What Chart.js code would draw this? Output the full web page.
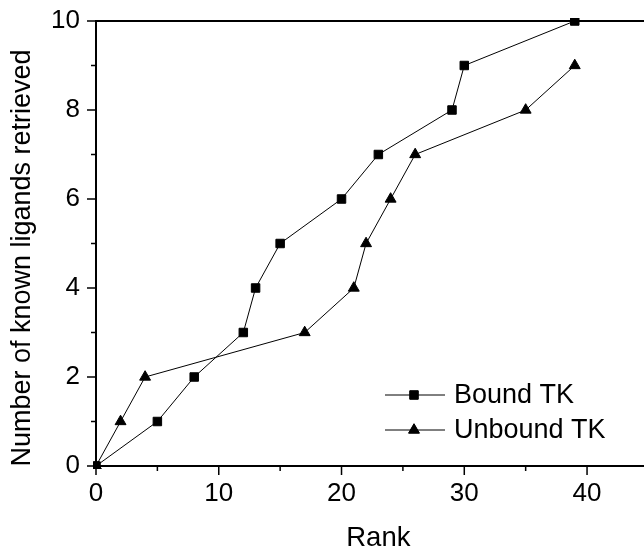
<!DOCTYPE html>
<html>
<head>
<meta charset="utf-8">
<script src="https://cdn.jsdelivr.net/npm/chart.js@4/dist/chart.umd.min.js"></script>
<style>
html,body{margin:0;padding:0;background:#fff;overflow:hidden;width:644px;height:552px;}
canvas{display:block;}
</style>
</head>
<body>
<canvas id="c" width="668" height="552" style="width:668px;height:552px"></canvas>
<script>
const seriesNames = ['Bound TK', 'Unbound TK'];
const boundRank = [0, 5, 8, 12, 13, 15, 20, 23, 29, 30, 39];
const boundCount = [0, 1, 2, 3, 4, 5, 6, 7, 8, 9, 10];
const unboundRank = [0, 2, 4, 17, 21, 22, 24, 26, 35, 39];
const unboundCount = [0, 1, 2, 3, 4, 5, 6, 7, 8, 9];
const xTitle = 'Rank';
const yTitle = 'Number of known ligands retrieved';
const xMajorTicks = [0, 10, 20, 30, 40];
const xMinorTicks = [5, 15, 25, 35, 45];
const yMajorTicks = [0, 2, 4, 6, 8, 10];
const yMinorTicks = [1, 3, 5, 7, 9];
const xRange = [0, 46];
const yRange = [0, 10];

const FONT = '"Liberation Sans", Arial, sans-serif';

const toPts = (xs, ys) => xs.map((x, i) => ({x: x, y: ys[i]}));

const decor = {
  id: 'decor',
  afterDraw(chart) {
    const ctx = chart.ctx;
    const a = chart.chartArea;
    const xs = chart.scales.x, ys = chart.scales.y;
    ctx.save();
    ctx.strokeStyle = '#000';
    // top border
    ctx.lineWidth = 2;
    ctx.beginPath();
    ctx.moveTo(a.left - 1, a.top);
    ctx.lineTo(a.right, a.top);
    ctx.stroke();
    // ticks
    ctx.lineWidth = 1.5;
    ctx.beginPath();
    xMajorTicks.forEach(v => { const p = xs.getPixelForValue(v); ctx.moveTo(p, a.bottom); ctx.lineTo(p, a.bottom + 9); });
    xMinorTicks.forEach(v => { const p = xs.getPixelForValue(v); ctx.moveTo(p, a.bottom); ctx.lineTo(p, a.bottom + 5); });
    yMajorTicks.forEach(v => { const p = ys.getPixelForValue(v); ctx.moveTo(a.left, p); ctx.lineTo(a.left - 9, p); });
    yMinorTicks.forEach(v => { const p = ys.getPixelForValue(v); ctx.moveTo(a.left, p); ctx.lineTo(a.left - 5, p); });
    ctx.stroke();
    // y title
    ctx.fillStyle = '#000';
    ctx.font = '27px ' + FONT;
    ctx.textAlign = 'center';
    ctx.textBaseline = 'middle';
    ctx.translate(23, 258);
    ctx.rotate(-Math.PI / 2);
    ctx.fillText(yTitle, 0, 0);
    ctx.restore();

    // legend
    ctx.save();
    const rows = [395, 430];
    chart.data.datasets.forEach((ds, i) => {
      const y = rows[i];
      ctx.strokeStyle = '#000';
      ctx.lineWidth = 1;
      ctx.beginPath();
      ctx.moveTo(385, y);
      ctx.lineTo(445, y);
      ctx.stroke();
      Chart.helpers.drawPoint(ctx, {pointStyle: ds.pointStyle, radius: ds.pointRadius, borderWidth: 1, rotation: 0}, 414, y);
      ctx.fillStyle = '#000';
      ctx.fill();
      ctx.font = '27px ' + FONT;
      ctx.textAlign = 'left';
      ctx.textBaseline = 'middle';
      ctx.fillText(ds.label, 454, y + 1);
    });
    ctx.restore();
  }
};

const noPad = s => { s.paddingTop = 0; s.paddingBottom = 0; s.paddingLeft = 0; s.paddingRight = 0; };

new Chart(document.getElementById('c'), {
  type: 'scatter',
  data: {
    datasets: [
      {
        label: seriesNames[0],
        data: toPts(boundRank, boundCount),
        showLine: true,
        borderColor: '#000',
        borderWidth: 1,
        pointStyle: 'rect',
        pointRadius: 6,
        pointBackgroundColor: '#000',
        pointBorderColor: '#000',
        pointBorderWidth: 1,
        clip: 3,
        order: 1
      },
      {
        label: seriesNames[1],
        data: toPts(unboundRank, unboundCount),
        showLine: true,
        borderColor: '#000',
        borderWidth: 1,
        pointStyle: 'triangle',
        pointRadius: 6.3,
        pointBackgroundColor: '#000',
        pointBorderColor: '#000',
        pointBorderWidth: 1,
        clip: 3,
        order: 2
      }
    ]
  },
  options: {
    responsive: false,
    animation: false,
    events: [],
    layout: {padding: {left: 0, right: 0, top: 21, bottom: 0}},
    plugins: {legend: {display: false}, tooltip: {enabled: false}},
    scales: {
      x: {
        type: 'linear',
        min: xRange[0], max: xRange[1],
        afterBuildTicks(s) { s.ticks = xMajorTicks.map(v => ({value: v})); },
        afterFit(s) { s.height = 86; noPad(s); },
        grid: {display: false, drawTicks: false},
        border: {display: true, color: '#000', width: 2},
        ticks: {color: '#000', font: {family: FONT, size: 26}, padding: 12, maxRotation: 0, autoSkip: false},
        title: {display: true, text: xTitle, color: '#000', font: {family: FONT, size: 27.5}, padding: {top: 0, bottom: -3}}
      },
      y: {
        type: 'linear',
        min: yRange[0], max: yRange[1],
        afterBuildTicks(s) { s.ticks = yMajorTicks.map(v => ({value: v})); },
        afterFit(s) { s.width = 96; noPad(s); },
        grid: {display: false, drawTicks: false},
        border: {display: true, color: '#000', width: 2},
        ticks: {color: '#000', font: {family: FONT, size: 26}, padding: 16},
        title: {display: false}
      }
    }
  },
  plugins: [decor]
});
</script>
</body>
</html>
